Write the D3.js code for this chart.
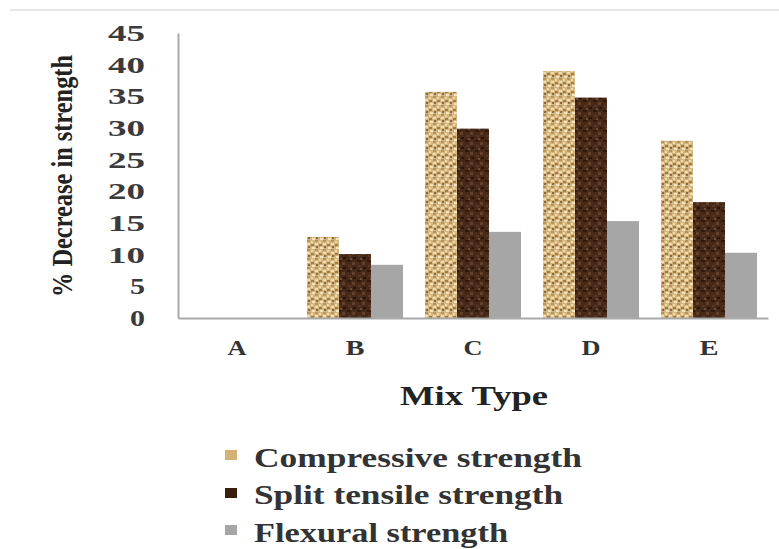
<!DOCTYPE html>
<html><head><meta charset="utf-8">
<script src="https://cdn.jsdelivr.net/npm/d3@7"></script>
<style>body{margin:0;background:#fff}svg{display:block}</style>
</head><body>
<script>
const categories = ["A","B","C","D","E"];
const seriesNames = ["Compressive strength","Split tensile strength","Flexural strength"];
const compressive = [0, 12.8, 35.7, 39.0, 28.0];
const splitTensile = [0, 10.1, 29.9, 34.8, 18.3];
const flexural = [0, 8.4, 13.6, 15.3, 10.3];
const yTicks = [0,5,10,15,20,25,30,35,40,45];

const W = 779, H = 549;
const svg = d3.select("body").append("svg").attr("width", W).attr("height", H);
const defs = svg.append("defs");

// texture patterns
const p1 = defs.append("pattern").attr("id","tan").attr("patternUnits","userSpaceOnUse").attr("width",8).attr("height",9);
p1.append("rect").attr("width",8).attr("height",9).attr("fill","#d6b680");
[[0,0,3,2,"#f1ddb2"],[4,1,3,2,"#a07e48"],[1,3,2,2,"#8a6a3a"],[5,4,3,2,"#f4e3bd"],[0,6,3,2,"#b8935a"],[4,7,2,2,"#efd8a8"],[3,3,2,1,"#c9a468"]]
 .forEach(d=>p1.append("rect").attr("x",d[0]).attr("y",d[1]).attr("width",d[2]).attr("height",d[3]).attr("fill",d[4]));
const p2 = defs.append("pattern").attr("id","brown").attr("patternUnits","userSpaceOnUse").attr("width",10).attr("height",10);
p2.append("rect").attr("width",10).attr("height",10).attr("fill","#47291a");
[[0,0,4,2,"#33190a"],[5,2,3,3,"#62402a"],[1,5,3,2,"#573724"],[6,7,3,2,"#2a1406"],[3,8,2,2,"#6e4d36"]]
 .forEach(d=>p2.append("rect").attr("x",d[0]).attr("y",d[1]).attr("width",d[2]).attr("height",d[3]).attr("fill",d[4]));

const fills = ["url(#tan)","url(#brown)","#a6a6a6"];
const swatch = ["#d2b276","#3a1f0e","#a6a6a6"];

// top faint rule
svg.append("line").attr("x1",10).attr("x2",W).attr("y1",10).attr("y2",10).attr("stroke","#e6e6e6").attr("stroke-width",2);

const x0 = 178, x1 = 768, yBottom = 318, yTop = 33;
const x = d3.scaleBand().domain(categories).range([x0, x1]).paddingInner(0).paddingOuter(0);
const y = d3.scaleLinear().domain([0,45]).range([yBottom, yTop]);
const inner = d3.scaleBand().domain([0,1,2]).range([0, 96]);

const data = categories.map((c,i)=>({c, vals:[compressive[i], splitTensile[i], flexural[i]]}));
const groups = svg.append("g").selectAll("g").data(data).join("g")
  .attr("transform", d=>`translate(${x(d.c) + (x.bandwidth()-96)/2},0)`);
groups.selectAll("rect").data(d=>d.vals.map((v,k)=>({v,k}))).join("rect")
  .attr("x", d=>inner(d.k)).attr("width", inner.bandwidth())
  .attr("y", d=>y(d.v)).attr("height", d=>yBottom - y(d.v))
  .attr("fill", d=>fills[d.k]);

// axes
const yAxis = d3.axisLeft(y).tickValues(yTicks).tickSize(0).tickPadding(33);
const gy = svg.append("g").attr("transform",`translate(${x0},0)`).call(yAxis);
gy.select(".domain").attr("stroke","#a9a9a9").attr("stroke-width",2);
gy.selectAll("text").attr("font-family","'Liberation Serif', serif").attr("font-size",23)
  .attr("font-weight","bold").attr("fill","#3a3a3a").attr("dy","0.32em")
  .attr("textLength", d=> String(d).length > 1 ? 37 : 15).attr("lengthAdjust","spacingAndGlyphs");

const xAxis = d3.axisBottom(x).tickSize(0).tickPadding(30);
const gx = svg.append("g").attr("transform",`translate(0,${yBottom})`).call(xAxis);
gx.select(".domain").attr("stroke","#a9a9a9").attr("stroke-width",2);
gx.selectAll("text").attr("font-family","'Liberation Serif', serif").attr("font-size",21)
  .attr("font-weight","bold").attr("fill","#333").attr("dy","0.32em")
  .attr("textLength",19).attr("lengthAdjust","spacingAndGlyphs");

// axis titles
svg.append("text").attr("x",474).attr("y",405).attr("text-anchor","middle")
  .attr("font-family","'Liberation Serif', serif").attr("font-size",28).attr("font-weight","bold").attr("fill","#222")
  .attr("textLength",148).attr("lengthAdjust","spacingAndGlyphs")
  .text("Mix Type");
svg.append("text").attr("transform","translate(72,176) rotate(-90)").attr("text-anchor","middle")
  .attr("font-family","'Liberation Serif', serif").attr("font-size",29).attr("font-weight","bold").attr("fill","#222")
  .attr("textLength",242).attr("lengthAdjust","spacingAndGlyphs")
  .text("% Decrease in strength");

// legend
const legY = [455, 493, 530];
const legBase = [467, 504, 542];
const legEnd = [582, 563, 508];
const leg = svg.append("g").selectAll("g").data(seriesNames).join("g");
leg.append("rect").attr("x",225).attr("y",(d,i)=>legY[i]-5).attr("width",12).attr("height",10).attr("fill",(d,i)=>swatch[i]);
leg.append("text").attr("x",254).attr("y",(d,i)=>legBase[i])
  .attr("font-family","'Liberation Serif', serif").attr("font-size",27).attr("font-weight","bold").attr("fill","#333")
  .attr("textLength",(d,i)=>legEnd[i]-254).attr("lengthAdjust","spacingAndGlyphs")
  .text(d=>d);
</script>
</body></html>
